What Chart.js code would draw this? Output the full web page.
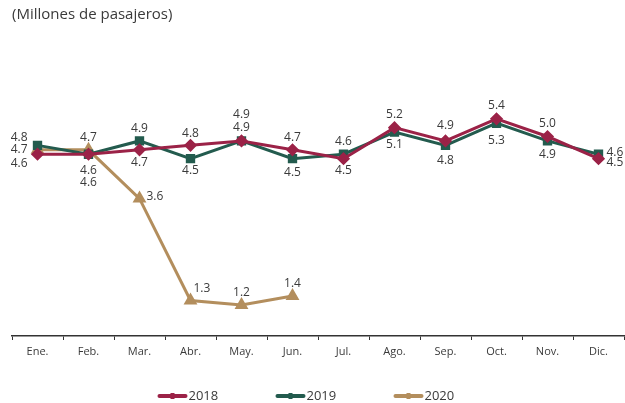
<!DOCTYPE html>
<html>
<head>
<meta charset="utf-8">
<script src="https://cdn.jsdelivr.net/npm/chart.js@4"></script>
<style>
  html, body { margin: 0; padding: 0; background: #fff; overflow: hidden; }
  #wrap { width: 625px; height: 403px; }
  canvas { display: block; }
</style>
</head>
<body>
<div id="wrap"><canvas id="chart" width="625" height="403"></canvas></div>
<script>
var months = ['Ene.', 'Feb.', 'Mar.', 'Abr.', 'May.', 'Jun.', 'Jul.', 'Ago.', 'Sep.', 'Oct.', 'Nov.', 'Dic.'];
var pax2018 = [4.6, 4.6, 4.7, 4.8, 4.9, 4.7, 4.5, 5.2, 4.9, 5.4, 5.0, 4.5];
var pax2019 = [4.8, 4.6, 4.9, 4.5, 4.9, 4.5, 4.6, 5.1, 4.8, 5.3, 4.9, 4.6];
var pax2020 = [4.7, 4.7, 3.6, 1.3, 1.2, 1.4];

var textColor = '#3a3a3a';
var fontFamily = '"Open Sans", sans-serif';

// label placement per point: [side, dx, dy]
var labelPlace = [
    [['l', -10, 9], ['b', 0, 28], ['b', 0, 13], ['a', 0, -12], ['a', 0, -26], ['a', 0, -12],
     ['b', 0, 12], ['a', 0, -13], ['a', 0, -15], ['a', 0, -13], ['a', 0, -13], ['r', 8, 4]],
    [['l', -10, -8], ['b', 0, 16], ['a', 0, -12], ['b', 0, 12], ['a', 0, -13], ['b', 0, 14],
     ['a', 0, -13], ['b', 0, 13], ['b', 0, 15], ['b', 0, 17], ['b', 0, 14], ['r', 8, -2]],
    [['l', -10, 0], ['a', 0, -12], ['r', 7, -2], ['r', 3, -12], ['a', 0, -12], ['a', 0, -13]]
];

var valueLabels = {
    id: 'valueLabels',
    afterDatasetsDraw: function (chart) {
        var ctx = chart.ctx;
        ctx.save();
        ctx.font = '12px ' + fontFamily;
        ctx.fillStyle = textColor;
        ctx.textBaseline = 'middle';
        chart.data.datasets.forEach(function (ds, i) {
            var meta = chart.getDatasetMeta(i);
            meta.data.forEach(function (pt, j) {
                var p = labelPlace[i][j];
                ctx.textAlign = p[0] === 'l' ? 'right' : (p[0] === 'r' ? 'left' : 'center');
                ctx.fillText(ds.data[j].toFixed(1), pt.x + p[1], pt.y + p[2]);
            });
        });
        ctx.restore();
    }
};

// legend drawn as short thick lines with the year next to them
var lineLegend = {
    id: 'lineLegend',
    afterDraw: function (chart) {
        var ctx = chart.ctx;
        var y = 396;
        var x = chart.width / 2 - 155;
        ctx.save();
        ctx.font = '13px ' + fontFamily;
        ctx.textBaseline = 'middle';
        ctx.textAlign = 'left';
        chart.data.datasets.forEach(function (ds) {
            ctx.strokeStyle = ds.borderColor;
            ctx.lineWidth = 4;
            ctx.lineCap = 'round';
            ctx.beginPath();
            ctx.moveTo(x + 2, y);
            ctx.lineTo(x + 28, y);
            ctx.stroke();
            ctx.fillStyle = ds.borderColor;
            ctx.fillRect(x + 13, y - 3, 4, 6);
            ctx.fillStyle = textColor;
            ctx.fillText(ds.label, x + 31, y);
            x += 118;
        });
        ctx.restore();
    }
};

new Chart(document.getElementById('chart'), {
    type: 'line',
    data: {
        labels: months,
        datasets: [
            { label: '2018', data: pax2018, borderColor: '#9B2247', backgroundColor: '#9B2247',
              borderWidth: 3, pointStyle: 'rectRot', pointRadius: 4.5, pointHoverRadius: 4.5 },
            { label: '2019', data: pax2019, borderColor: '#235B4E', backgroundColor: '#235B4E',
              borderWidth: 3, pointStyle: 'rect', pointRadius: 4.5, pointHoverRadius: 4.5 },
            { label: '2020', data: pax2020, borderColor: '#B38E5D', backgroundColor: '#B38E5D',
              borderWidth: 3, pointStyle: 'triangle', pointRadius: 5, pointHoverRadius: 5 }
        ]
    },
    options: {
        responsive: false,
        animation: false,
        layout: { autoPadding: false, padding: { left: 12, right: 1, top: 0, bottom: 43 } },
        plugins: {
            title: {
                display: true,
                text: '(Millones de pasajeros)',
                align: 'start',
                color: textColor,
                font: { family: fontFamily, size: 15, weight: 'normal' },
                padding: { top: 6, bottom: 46 }
            },
            legend: { display: false },
            tooltip: { enabled: false }
        },
        scales: {
            x: {
                offset: true,
                border: { color: '#333', width: 1.5 },
                grid: { display: true, offset: true, drawOnChartArea: false, drawTicks: true, tickLength: 4, color: '#333' },
                ticks: { color: textColor, font: { family: fontFamily, size: 11 }, padding: 5, maxRotation: 0 },
                afterFit: function (scale) {
                    scale.height = 24;
                    scale.paddingLeft = 0;
                    scale.paddingRight = 0;
                }
            },
            y: {
                display: false,
                min: 0.5,
                max: 6.5
            }
        }
    },
    plugins: [valueLabels, lineLegend]
});
</script>
</body>
</html>
